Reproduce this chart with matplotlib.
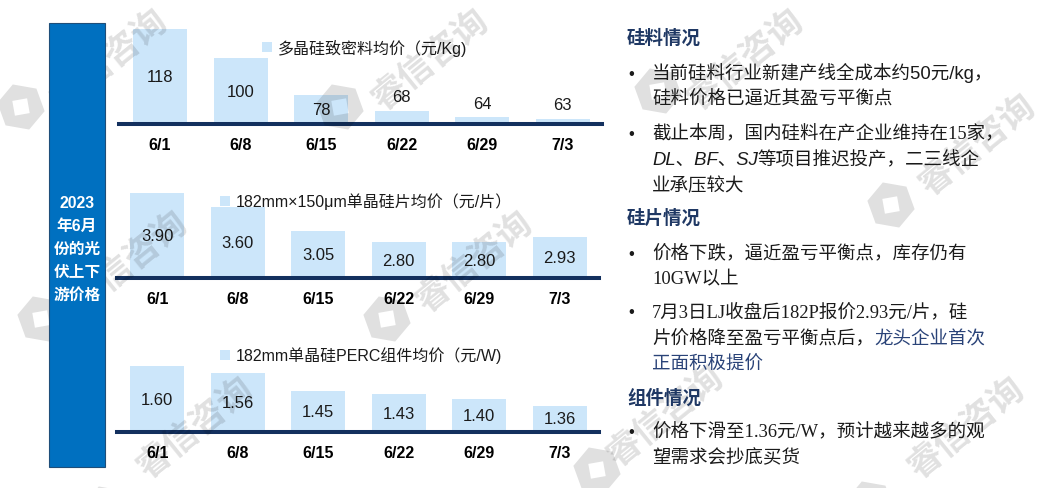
import matplotlib
matplotlib.use('Agg')
import matplotlib.pyplot as plt
from matplotlib.patches import Rectangle, PathPatch
from matplotlib.path import Path
import numpy as np

# ---------------- data ----------------
dates = ['6/1', '6/8', '6/15', '6/22', '6/29', '7/3']
polysilicon_price = [118, 100, 78, 68, 64, 63]
wafer_price = [3.90, 3.60, 3.05, 2.80, 2.80, 2.93]
module_price = [1.60, 1.56, 1.45, 1.43, 1.40, 1.36]
series_names = ['多晶硅致密料均价（元/Kg)',
                '182mm×150μm单晶硅片均价（元/片）',
                '182mm单晶硅PERC组件均价（元/W)']
value_formats = ['{:.0f}', '{:.2f}', '{:.2f}']
side_title = ['2023', '年6月', '份的光', '伏上下', '游价格']
heading_1 = '硅料情况'
heading_2 = '硅片情况'
heading_3 = '组件情况'
watermark = '睿信咨询'

# ---------------- style ----------------
W, H = 1040, 489
SANS = ['Liberation Sans', 'Noto Sans CJK SC']
SERIF = ['Liberation Serif', 'Noto Sans CJK SC']
CJK = ['Noto Sans CJK SC', 'Liberation Sans']
BAR = '#CCE6FA'
NAVY = '#13305E'
HEAD = '#1F3864'
BODY = '#1A1A1A'
ACCENT = '#2A4378'
BOX = '#0070C0'

fig = plt.figure(figsize=(W / 100, H / 100), dpi=100)
fig.patch.set_facecolor('white')


def px_axes(x0, top, x1, bottom, **kw):
    return fig.add_axes([x0 / W, 1 - bottom / H, (x1 - x0) / W, (bottom - top) / H], **kw)


# chart layout: (x0, top, x1, bottom, ylim, xlim, legend anchor)
layouts = [
    (119, 20, 602, 125, (60, 124.1), (-0.51, 5.49), (254, 48)),
    (117, 180, 599, 279, (2.0, 4.225), (-0.50, 5.49), (212, 202)),
    (117, 340, 599, 433, (1.2, 1.764), (-0.50, 5.49), (212, 356)),
]
series = [polysilicon_price, wafer_price, module_price]

for vals, name, fmt, lay in zip(series, series_names, value_formats, layouts):
    x0, top, x1, bottom, ylim, xlim, leg = lay
    ax = px_axes(x0, top, x1, bottom)
    ax.set_facecolor('none')
    x = np.arange(len(dates))
    bars = ax.bar(x, [v - ylim[0] for v in vals], bottom=ylim[0], width=0.67,
                  color=BAR, label=name, zorder=1)
    ax.set_xlim(*xlim)
    ax.set_ylim(*ylim)
    for s in ['left', 'right', 'top']:
        ax.spines[s].set_visible(False)
    ax.spines['bottom'].set_color(NAVY)
    ax.spines['bottom'].set_linewidth(2.9)
    ax.spines['bottom'].set_zorder(3)
    ax.set_yticks([])
    ax.set_xticks(x)
    ax.set_xticklabels(dates, fontsize=11.5, fontweight='bold', family=SANS, color='black')
    ax.tick_params(axis='x', length=0, pad=9.3)
    axh = bottom - top
    for xi, v in zip(x, vals):
        hpx = (v - ylim[0]) / (ylim[1] - ylim[0]) * axh
        if hpx > 25:
            ax.text(xi, (v + ylim[0]) / 2, fmt.format(v), ha='center', va='center',
                    fontsize=12, family=SANS, color=BODY, zorder=4)
        else:
            ax.annotate(fmt.format(v), xy=(xi, v), xytext=(0, 5), textcoords='offset points',
                        ha='center', va='bottom', fontsize=12, family=SANS, color=BODY,
                        zorder=4)
    lg = ax.legend(handles=[bars], loc='center left',
                   bbox_to_anchor=(leg[0] / W, 1 - leg[1] / H),
                   bbox_transform=fig.transFigure, frameon=False, borderpad=0,
                   handlelength=0.63, handleheight=0.63, handletextpad=0.38,
                   prop={'family': SANS, 'size': 11.5})
    for t in lg.get_texts():
        t.set_color(BODY)

# ---------------- overlay (watermarks, box, notes) ----------------
ov = fig.add_axes([0, 0, 1, 1], zorder=10)
ov.set_xlim(0, W)
ov.set_ylim(H, 0)
ov.axis('off')


def logo(cx, cy, r=24, rot=10):
    ang = np.deg2rad(np.arange(6) * 60 + rot)
    outer = np.c_[cx + r * np.cos(ang), cy + r * np.sin(ang)]
    s = 7.5
    ang2 = np.deg2rad(np.arange(4) * -90 + 35)
    inner = np.c_[cx + s * 1.414 * np.cos(ang2), cy + s * 1.414 * np.sin(ang2)]
    verts = np.vstack([outer, outer[:1], inner, inner[:1]])
    codes = ([Path.MOVETO] + [Path.LINETO] * 5 + [Path.CLOSEPOLY] +
             [Path.MOVETO] + [Path.LINETO] * 3 + [Path.CLOSEPOLY])
    ov.add_patch(PathPatch(Path(verts, codes), facecolor='black', alpha=0.12,
                           edgecolor='none', zorder=1))


for lx, ly in [(21, 108), (340, 108), (658, 92), (891, 206), (41, 320),
               (387, 320), (597, 471), (870, 505), (107, 510)]:
    logo(lx, ly)
for tx, ty in [(109, 60), (430, 60), (745, 60), (977, 145), (129, 262),
               (474, 262), (195, 428), (665, 416), (966, 428)]:
    ov.text(tx, ty, watermark, rotation=39, rotation_mode='anchor', ha='center',
            va='center', fontsize=25, fontweight='bold', family=CJK, color='black',
            alpha=0.12, zorder=1)

# left blue box
ov.add_patch(Rectangle((49, 24), 56, 444, facecolor=BOX, edgecolor='#1F4E79',
                       lw=0.8, zorder=5))
for yc, s in zip([203, 225, 248, 271, 294], side_title):
    ov.text(77, yc + 5.5, s, ha='center', va='baseline', fontsize=11.3,
            fontweight='bold', family=SANS, color='white', zorder=6)

# right-side notes
FS = 13.3


def rt(x, yc, s, family=SANS, color=BODY, weight='normal', style='normal'):
    return ov.text(x, yc + 7, s, ha='left', va='baseline', fontsize=FS, family=family,
                   color=color, fontweight=weight, fontstyle=style, zorder=7)


def chain(prev, s, family=SANS, color=BODY, style='normal'):
    return ov.annotate(s, xy=(1, 0), xycoords=prev, ha='left', va='bottom',
                       fontsize=FS, family=family, color=color, fontstyle=style,
                       zorder=7)


def bullet(yc):
    ov.text(631, yc + 7, '•', ha='center', va='baseline', fontsize=12,
            family=['Liberation Sans'], color=BODY, zorder=7)


TX = 652
rt(627, 37, heading_1, family=CJK, color=HEAD, weight='bold')
bullet(72)
rt(TX, 72, '当前硅料行业新建产线全成本约50元/kg，')
rt(TX, 98, '硅料价格已逼近其盈亏平衡点')
bullet(132)
rt(TX, 132, '截止本周，国内硅料在产企业维持在15家，', family=SERIF)
t = rt(TX, 158, 'DL、BF、SJ', style='italic')
chain(t, '等项目推迟投产，二三线企')
rt(TX, 184, '业承压较大')

rt(627, 217, heading_2, family=CJK, color=HEAD, weight='bold')
bullet(252)
rt(TX, 252, '价格下跌，逼近盈亏平衡点，库存仍有')
rt(TX, 277, '10GW以上', family=SERIF)
bullet(310)
rt(TX, 310, '7月3日LJ收盘后182P报价2.93元/片，硅', family=SERIF)
t = rt(TX, 337, '片价格降至盈亏平衡点后，')
chain(t, '龙头企业首次', color=ACCENT)
rt(TX, 363, '正面积极提价', color=ACCENT)

rt(627, 397, heading_3, family=CJK, color=HEAD, weight='bold')
bullet(430)
rt(TX, 430, '价格下滑至1.36元/W，预计越来越多的观', family=SERIF)
rt(TX, 456, '望需求会抄底买货')

fig.savefig('out.png', dpi=100, facecolor='white')
